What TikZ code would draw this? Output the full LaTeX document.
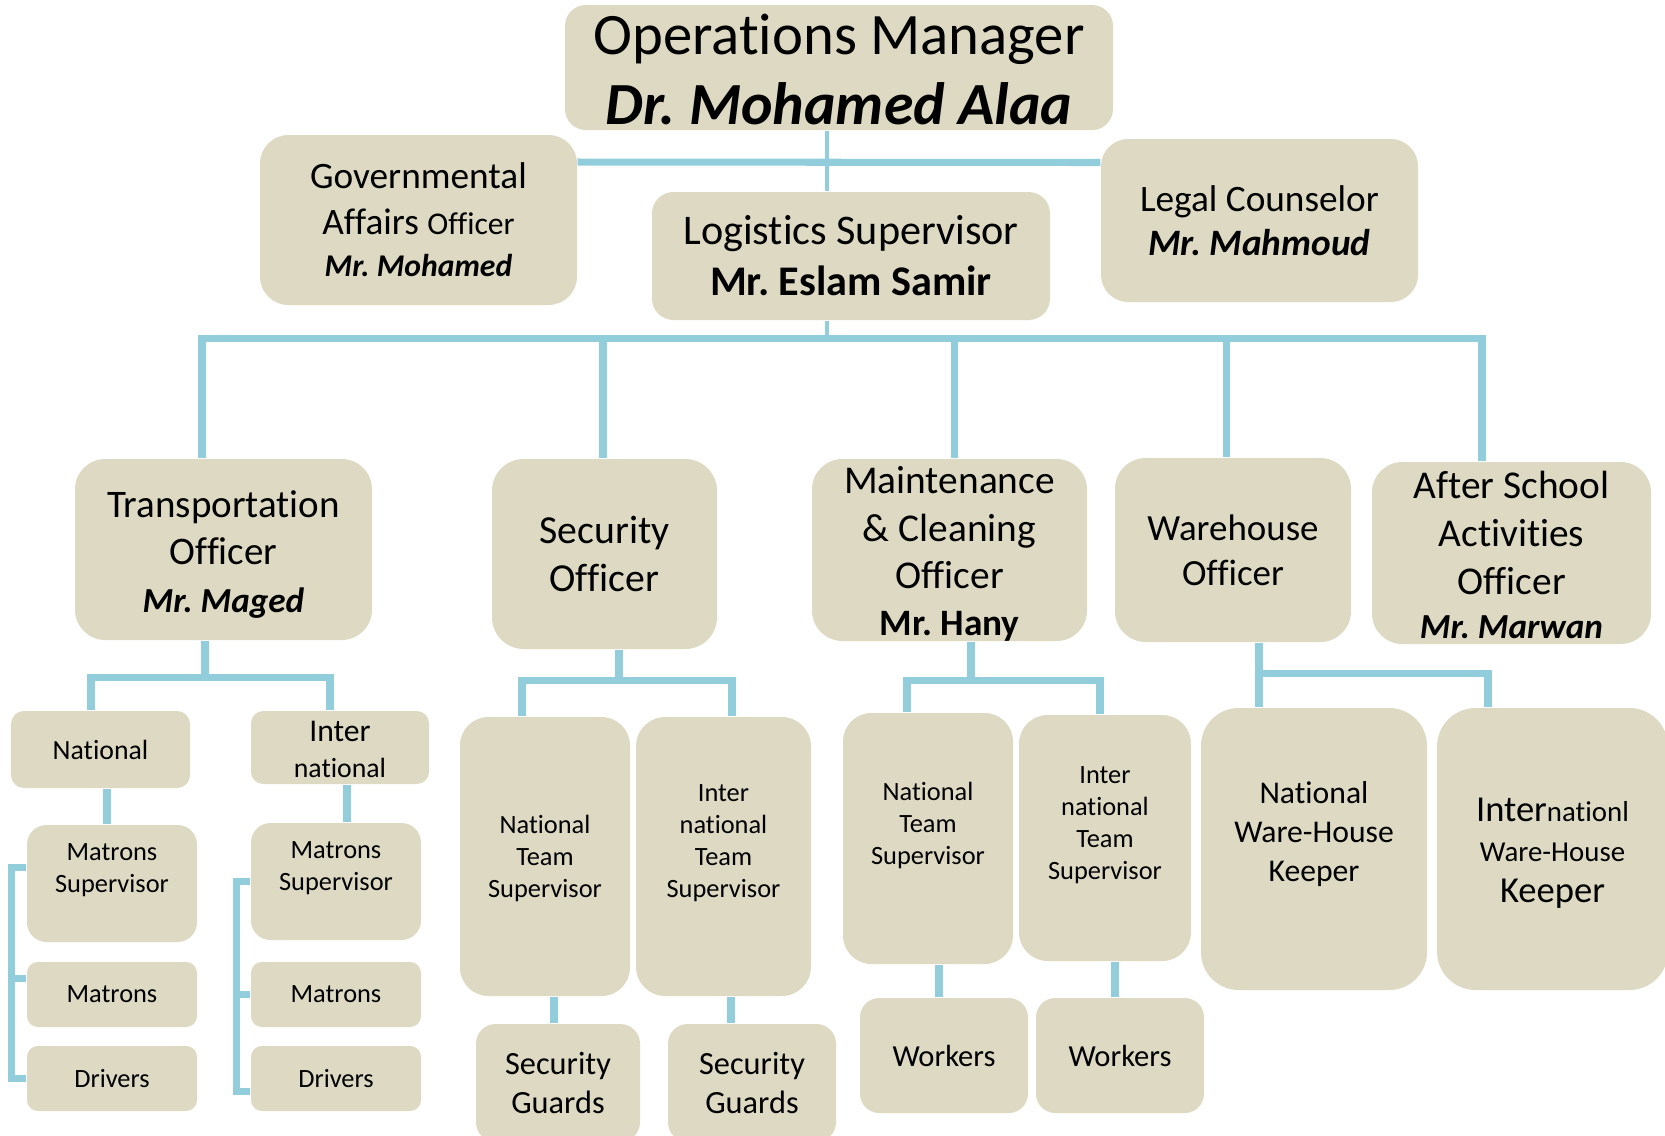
\documentclass[tikz,border=0pt]{standalone}
\usepackage{fontspec}
\setmainfont{Carlito}[Ligatures=NoCommon]
\usetikzlibrary{calc}
\definecolor{boxfill}{HTML}{DDD9C3}
\definecolor{linkblue}{HTML}{92CDDC}
\newcommand{\fsz}[2]{\fontsize{#1}{#2}\selectfont}
\newcommand{\orgbox}[7][]{% [text style] name x1 y1 x2 y2 text
  \pgfmathsetmacro\cornr{0.167*min(#5-#3,#6-#4)}
  \node[box, rounded corners={\cornr*0.01cm},
        minimum width={(#5-#3)*0.01cm}, minimum height={(#6-#4)*0.01cm}]
        (#2) at ({(#3+#5)/2},{(#4+#6)/2}) {};
  \node[boxtext, #1] (#2-t) at (#2.center) {#7};
}

\begin{document}
\begin{tikzpicture}[x=0.01cm, y=-0.01cm,
  box/.style={fill=boxfill, draw=none, inner sep=0pt},
  boxtext/.style={align=center, inner sep=0pt, text=black},
  small/.style={font=\fsz{7.5}{9.1}},
  link/.style={draw=linkblue, line width=2pt},
  thinlink/.style={draw=linkblue, line width=1.2pt}]
  \useasboundingbox (0,0) rectangle (1665,1135);

  % top level
  \orgbox[font=\fsz{16.7}{20}, shift={(0,2)}]{ops}{565}{5}{1113}{130}{Operations Manager\\[0pt]
    \fsz{17}{20}\bfseries\itshape Dr.\ Mohamed Alaa}
  \orgbox[font=\fsz{10.6}{13}]{gov}{260}{135}{577}{305}{Governmental\\
    Affairs {\fsz{9}{11}Officer}\\[-1pt]\fsz{9}{11}\bfseries\itshape Mr.\ Mohamed}
  \orgbox[font=\fsz{12}{14.5}]{log}{652}{192}{1050}{320}{Logistics Supervisor\\
    \bfseries Mr.\ Eslam Samir}
  \orgbox[font=\fsz{10.6}{12.5}]{legal}{1101}{139}{1418}{302}{Legal Counselor\\
    \bfseries\itshape Mr.\ Mahmoud}

  % officers
  \orgbox[font=\fsz{11.1}{13.5}, shift={(0,5)}]{trans}{75}{459}{372}{640}{Transportation\\Officer\\
    \fsz{10}{12.5}\bfseries\itshape Mr.\ Maged}
  \orgbox[font=\fsz{11.3}{13.7}]{sec}{492}{459}{717}{649}{Security\\Officer}
  \orgbox[font=\fsz{11.2}{13.4}, shift={(0,4)}]{maint}{812}{459}{1087}{641}{Maintenance\\
    \& Cleaning\\Officer\\\fsz{10.6}{13}\bfseries Mr.\ Hany}
  \orgbox[font=\fsz{10.5}{12.8}]{ware}{1115}{458}{1351}{642}{Warehouse\\Officer}
  \orgbox[font=\fsz{11.2}{13.6}, shift={(0,2)}]{after}{1372}{462}{1651}{644}{After School\\
    Activities\\Officer\\[-1pt]\fsz{10}{12}\bfseries\itshape Mr.\ Marwan}

  % transportation branch
  \orgbox[font=\fsz{7.9}{10}]{tnat}{11}{711}{190}{788}{National}
  \orgbox[font=\fsz{7.9}{10}, shift={(0,2)}]{tint}{251}{711}{429}{784}{\fsz{9}{10}Inter\\national}
  \orgbox[small, shift={(0,-13)}]{tms}{27}{825}{197}{942}{Matrons\\Supervisor}
  \orgbox[small]{tmat}{27}{962}{197}{1027}{Matrons}
  \orgbox[small]{tdrv}{27}{1046}{197}{1111}{Drivers}
  \orgbox[small, shift={(0,-13)}]{ims}{251}{823}{421}{940}{Matrons\\Supervisor}
  \orgbox[small]{imat}{251}{962}{421}{1027}{Matrons}
  \orgbox[small]{idrv}{251}{1046}{421}{1111}{Drivers}

  % security branch
  \orgbox[small, shift={(0,2)}]{snat}{460}{717}{630}{996}{National\\Team\\Supervisor}
  \orgbox[small, shift={(0,-13)}]{sint}{636}{717}{811}{996}{Inter\\national\\Team\\Supervisor}
  \orgbox[font=\fsz{9.2}{11}]{sgl}{476}{1024}{640}{1142}{Security\\Guards}
  \orgbox[font=\fsz{9.2}{11}]{sgr}{668}{1024}{836}{1142}{Security\\Guards}

  % maintenance branch
  \orgbox[small, shift={(0,-13)}]{mnat}{843}{713}{1013}{964}{National\\Team\\Supervisor}
  \orgbox[small, shift={(0,-13)}]{mint}{1019}{715}{1191}{961}{Inter\\national\\Team\\Supervisor}
  \orgbox[font=\fsz{8.7}{10.5}]{wkl}{860}{998}{1028}{1113}{Workers}
  \orgbox[font=\fsz{8.7}{10.5}]{wkr}{1036}{998}{1204}{1113}{Workers}

  % warehouse branch
  \orgbox[font=\fsz{9}{11}, shift={(0,-15)}]{nwhk}{1201}{708}{1427}{990}{National\\Ware-House\\Keeper}
  \orgbox[font=\fsz{8.2}{11.5}, shift={(0,4)}]{iwhk}{1437}{708}{1668}{990}{%
    {\fsz{10.4}{11.5}Inter}nationl\\Ware-House\\\fsz{10.4}{11.5}Keeper}

  % connectors, top
  \draw[thinlink] ($(ops.south)+(-12,0)$) -- ($(log.north)+(-24,0)$);
  \draw[link] ($(gov.east)+(0,-58)$) -- ($(legal.west)+(0,-58)$);
  \draw[thinlink] ($(log.south)+(-24,0)$) -- ++(0,18) coordinate (bus);
  \draw[link] (bus) -| ($(trans.north)+(-21.5,0)$);
  \draw[link] (bus) -| ($(sec.north)+(-1.5,0)$);
  \draw[link] (bus) -| ($(maint.north)+(5,0)$);
  \draw[link] (bus) -| ($(ware.north)+(-6.5,0)$);
  \draw[link] (bus) -| ($(after.north)+(-29.5,0)$);

  % transportation
  \draw[link] ($(trans.south)+(-18.5,0)$) -- ++(0,37) coordinate (tj);
  \draw[link] (tj) -| ($(tnat.north)+(-9.5,0)$);
  \draw[link] (tj) -| ($(tint.north)+(-10,0)$);
  \draw[link] ($(tnat.south)+(6.5,0)$) -- ($(tms.north)+(-5,0)$);
  \draw[link] ($(tint.south)+(7,0)$) -- ($(ims.north)+(11,0)$);
  \draw[link] ($(tms.west)+(0,-16)$) -| ($(tdrv.west)+(-15,0)$) -- (tdrv.west);
  \draw[link] ($(tmat.west)+(0,-16)$) -- ++(-15,0);
  \draw[link] (ims.west) -| ($(idrv.west)+(-14,13)$) -- ($(idrv.west)+(0,13)$);
  \draw[link] (imat.west) -- ++(-14,0);

  % security
  \draw[link] ($(sec.south)+(14.5,0)$) -- ++(0,31) coordinate (sj);
  \draw[link] (sj) -| ($(snat.north)+(-23,0)$);
  \draw[link] (sj) -| ($(sint.north)+(8.5,0)$);
  \draw[link] ($(snat.south)+(9,0)$) -- ($(sgl.north)+(-4,0)$);
  \draw[link] ($(sint.south)+(7.5,0)$) -- ($(sgr.north)+(-21,0)$);

  % maintenance
  \draw[link] ($(maint.south)+(21.5,0)$) -- ++(0,39) coordinate (mj);
  \draw[link] (mj) -| ($(mnat.north)+(-21,0)$);
  \draw[link] (mj) -| ($(mint.north)+(-5,0)$);
  \draw[link] ($(mnat.south)+(11,0)$) -- ($(wkl.north)+(-5,0)$);
  \draw[link] ($(mint.south)+(10,0)$) -- ($(wkr.north)+(-5,0)$);

  % warehouse
  \draw[link] ($(ware.south)+(26,0)$) -- ($(nwhk.north)+(-55,0)$);
  \draw[link] ($(ware.south)+(26,31)$) -| ($(iwhk.north)+(-64.5,0)$);
\end{tikzpicture}
\end{document}
